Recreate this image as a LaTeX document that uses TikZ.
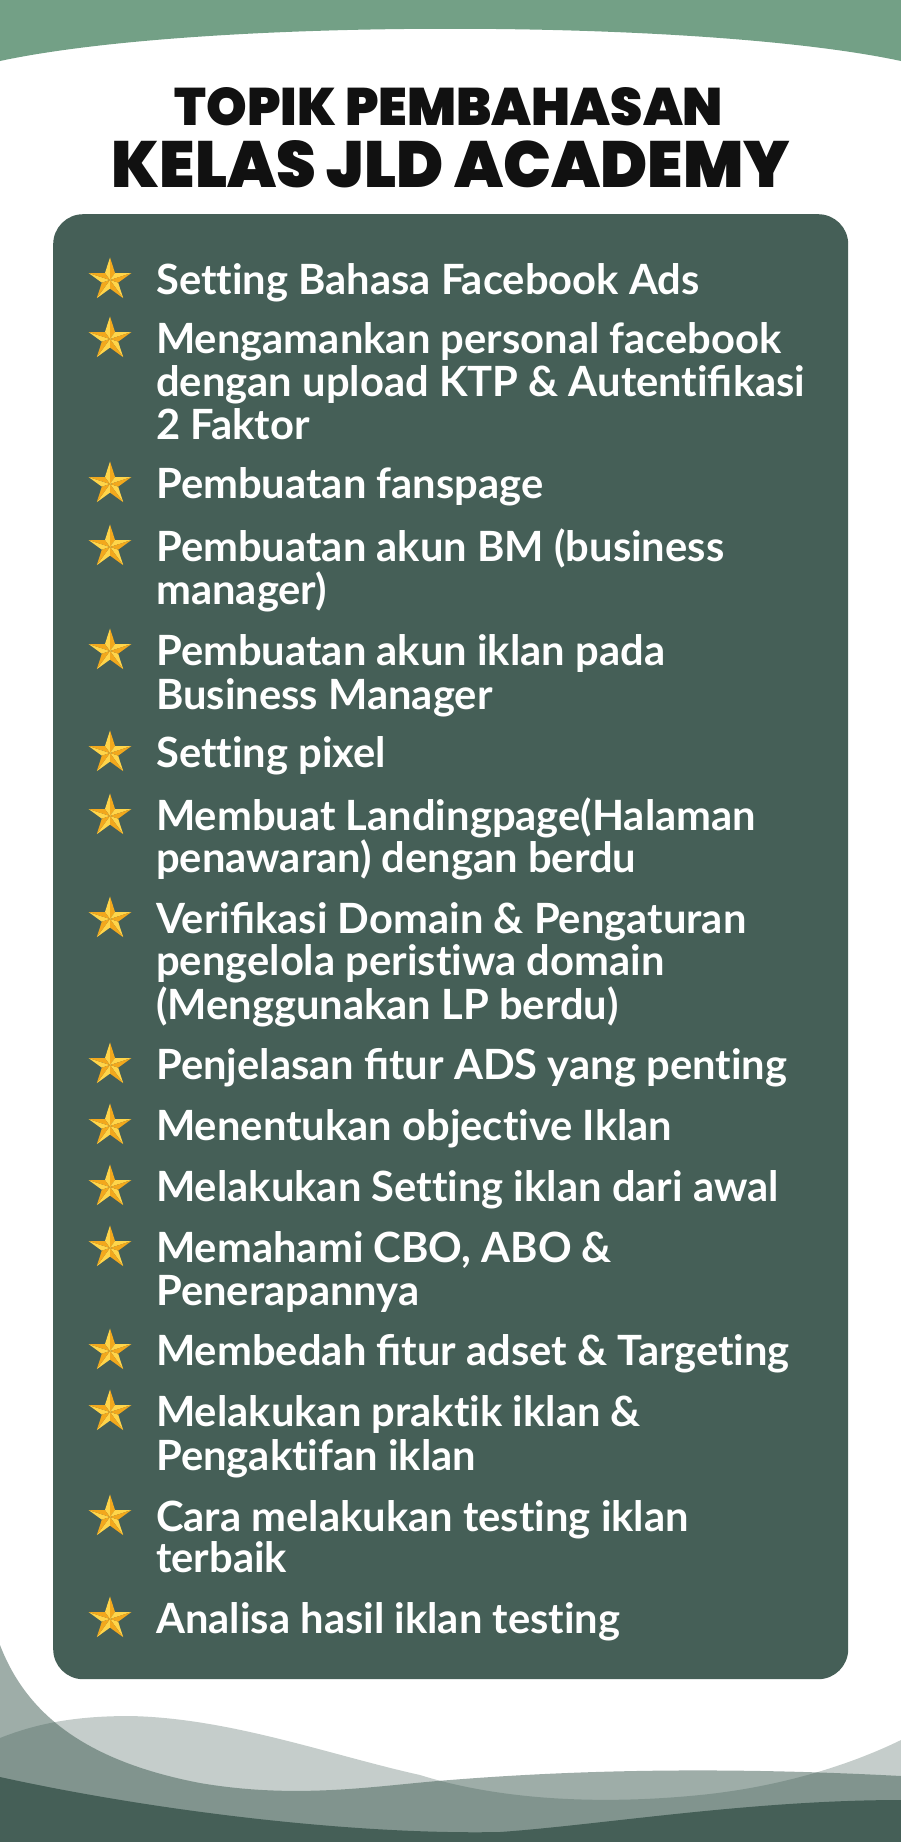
\documentclass[tikz,border=0pt]{standalone}
\usepackage{fontspec}
\usepackage{graphicx}
\newfontfamily\titlefont{Poppins Black}
\newfontfamily\bodyfont[Ligatures=NoCommon]{Lato Bold}
\definecolor{topgreen}{HTML}{73A086}
\definecolor{panelc}{HTML}{455F57}
\definecolor{wavec}{HTML}{3F5C53}
\definecolor{starlight}{HTML}{FFD54A}
\definecolor{stardark}{HTML}{F2A81D}
\definecolor{titlec}{HTML}{111111}
\tikzset{
  itemtxt/.style={font=\bodyfont\fontsize{41.7}{43}\selectfont, text=white, inner sep=0pt, anchor=base west},
  starpic/.pic={
    \foreach \k in {0,...,4}{
      \fill[starlight] (0,0) -- ({90+72*\k}:22.5) -- ({126+72*\k}:8.6) -- cycle;
      \fill[stardark] (0,0) -- ({90+72*\k}:22.5) -- ({54+72*\k}:8.6) -- cycle;
    }
  }
}
\begin{document}
\begin{tikzpicture}[x=1pt,y=1pt]
\useasboundingbox (0,0) rectangle (901,-1842);
\fill[white] (0,0) rectangle (901,-1842);
% top band
\fill[topgreen] (0,0) -- (901,0) -- (901,-61) .. controls (700,-18) and (200,-18) .. (0,-61) -- cycle;
% bottom waves
\fill[wavec, opacity=0.5] (0,-1645) .. controls (25,-1710) and (80,-1760) .. (200,-1783) .. controls (300,-1800) and (380,-1785) .. (450,-1780) .. controls (600,-1768) and (750,-1768) .. (901,-1776) -- (901,-1842) -- (0,-1842) -- cycle;
\fill[wavec, opacity=0.3] (0,-1738) .. controls (40,-1722) and (80,-1716) .. (130,-1716) .. controls (230,-1718) and (330,-1755) .. (420,-1775) .. controls (500,-1800) and (600,-1805) .. (700,-1795) .. controls (780,-1787) and (850,-1765) .. (901,-1740) -- (901,-1842) -- (0,-1842) -- cycle;
\fill[panelc] (0,-1777) .. controls (150,-1810) and (350,-1835) .. (500,-1832) .. controls (600,-1825) and (750,-1800) .. (901,-1800) -- (901,-1842) -- (0,-1842) -- cycle;
% panel
\node[fill=panelc, rounded corners=30pt, minimum width=795pt, minimum height=1465pt, inner sep=0pt, anchor=north west] (panel) at (53,-214) {};
% title
\node[anchor=base, inner sep=0pt, text=titlec] (title1) at (449,-125) {\resizebox{548pt}{38pt}{\titlefont TOPIK PEMBAHASAN}};
\node[anchor=base, inner sep=0pt, text=titlec] (title2) at (451,-187) {\resizebox{678pt}{47pt}{\titlefont KELAS JLD ACADEMY}};
% stars
\foreach \b/\n in {294/1,353/2,498/3,561/4,665/5,767/6,830/7,933/8,1079/9,1140/10,1201/11,1262/12,1365/13,1426/14,1531/15,1633/16}{
  \pic (star\n) at (110,-\b+14) {starpic};
}
% items
\node[itemtxt] (t1) at (156,-294) {Setting Bahasa Facebook Ads};
\node[itemtxt] (t2a) at (156,-353) {Mengamankan personal facebook};
\node[itemtxt] (t2b) at (156,-396) {dengan upload KTP \& Autentiﬁkasi};
\node[itemtxt] (t2c) at (156,-439) {2 Faktor};
\node[itemtxt] (t3) at (156,-498) {Pembuatan fanspage};
\node[itemtxt] (t4a) at (156,-561) {Pembuatan akun BM (business};
\node[itemtxt] (t4b) at (156,-604) {manager)};
\node[itemtxt] (t5a) at (156,-665) {Pembuatan akun iklan pada};
\node[itemtxt] (t5b) at (156,-709) {Business Manager};
\node[itemtxt] (t6) at (156,-767) {Setting pixel};
\node[itemtxt] (t7a) at (156,-830) {Membuat Landingpage(Halaman};
\node[itemtxt] (t7b) at (156,-872) {penawaran) dengan berdu};
\node[itemtxt] (t8a) at (156,-933) {Veriﬁkasi Domain \& Pengaturan};
\node[itemtxt] (t8b) at (156,-975) {pengelola peristiwa domain};
\node[itemtxt] (t8c) at (156,-1019) {(Menggunakan LP berdu)};
\node[itemtxt] (t9) at (156,-1079) {Penjelasan ﬁtur ADS yang penting};
\node[itemtxt] (t10) at (156,-1140) {Menentukan objective Iklan};
\node[itemtxt] (t11) at (156,-1201) {Melakukan Setting iklan dari awal};
\node[itemtxt] (t12a) at (156,-1262) {Memahami CBO, ABO \&};
\node[itemtxt] (t12b) at (156,-1305) {Penerapannya};
\node[itemtxt] (t13) at (156,-1365) {Membedah ﬁtur adset \& Targeting};
\node[itemtxt] (t14a) at (156,-1426) {Melakukan praktik iklan \&};
\node[itemtxt] (t14b) at (156,-1470) {Pengaktifan iklan};
\node[itemtxt] (t15a) at (156,-1531) {Cara melakukan testing iklan};
\node[itemtxt] (t15b) at (156,-1572) {terbaik};
\node[itemtxt] (t16) at (156,-1633) {Analisa hasil iklan testing};
\end{tikzpicture}
\end{document}
